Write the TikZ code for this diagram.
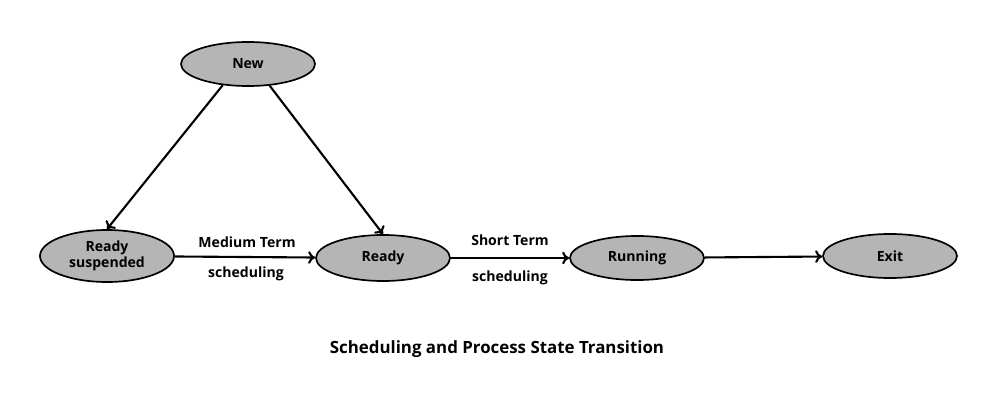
\documentclass[tikz,border=0pt]{standalone}
\usepackage{fontspec}
\setmainfont{Open Sans}
\usetikzlibrary{shapes.geometric,arrows.meta}
\begin{document}
\begin{tikzpicture}[x=0.025cm,y=-0.025cm,
  st/.style={ellipse,draw=black,line width=1.2pt,fill=gray!95!black!55,minimum width=3.35cm,minimum height=1.1cm,inner sep=0pt,align=center,font=\bfseries\fontsize{10}{11}\selectfont},
  ar/.style={-{To[length=5pt,width=9pt]},line width=1.5pt},
  lb/.style={font=\bfseries\fontsize{10}{11}\selectfont}]
\useasboundingbox (0,0) rectangle (1000,400);
\node[st] (new) at (248,64) {New};
\node[st,minimum height=1.3cm] (rs) at (107,256) {Ready\\suspended};
\node[st,minimum height=1.15cm] (ready) at (383,258) {Ready};
\node[st] (run) at (637,258) {Running};
\node[st] (exit) at (890,256) {Exit};
\draw[ar] (new.220) -- (rs.north);
\draw[ar] (new.315) -- (ready.north);
\draw[ar] (rs) -- (ready);
\draw[ar] (ready) -- (run);
\draw[ar] (run) -- (exit);
\node[lb] (m1) at (247,242) {Medium Term};
\node[lb] (m2) at (246,274) {scheduling};
\node[lb] (s1) at (510,240) {Short Term};
\node[lb] (s2) at (510,278) {scheduling};
\node[font=\bfseries\fontsize{12}{14}\selectfont] (t) at (497,349) {Scheduling and Process State Transition};
\end{tikzpicture}
\end{document}
